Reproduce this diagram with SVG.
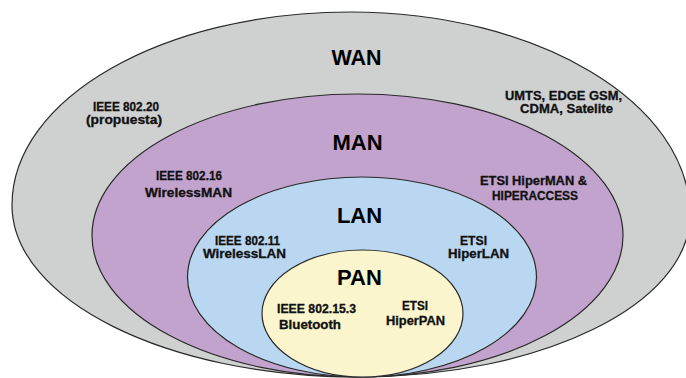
<svg xmlns="http://www.w3.org/2000/svg" width="686" height="378" viewBox="0 0 686 378">
<style>
.shape{stroke:#2a2a2a;stroke-width:1.2}
.big{font-family:"Liberation Sans",Arial,sans-serif;font-weight:bold;font-size:22px;fill:#000;text-anchor:middle}
.sm{font-family:"Liberation Sans",Arial,sans-serif;font-weight:bold;font-size:12px;fill:#111;stroke:#111;stroke-width:0.3;text-anchor:middle}
</style>
<rect width="686" height="378" fill="#ffffff"/>
<g id="wan">
<path class="shape" d="M12,205 C12,98.4 163.3,12 350,12 C537.8,12 690,102.9 690,215 C690,304.5 541.4,377 358,377 C166.9,377 12,300 12,205 Z" fill="#cfd0d0"/>
<text class="big" x="356.5" y="65" textLength="50" lengthAdjust="spacingAndGlyphs">WAN</text>
<text class="sm" x="126" y="111" textLength="66" lengthAdjust="spacingAndGlyphs">IEEE 802.20</text>
<text class="sm" x="124" y="123.5" textLength="76" lengthAdjust="spacingAndGlyphs">(propuesta)</text>
<text class="sm" x="563.5" y="99.5" textLength="117" lengthAdjust="spacingAndGlyphs">UMTS, EDGE GSM,</text>
<text class="sm" x="566.5" y="113" textLength="93" lengthAdjust="spacingAndGlyphs">CDMA, Satelite</text>
</g>
<g id="man">
<ellipse class="shape" cx="357.5" cy="235.5" rx="265.5" ry="141.5" fill="#c1a3cd"/>
<text class="big" x="357.5" y="150">MAN</text>
<text class="sm" x="189" y="180" textLength="66" lengthAdjust="spacingAndGlyphs">IEEE 802.16</text>
<text class="sm" x="188.5" y="196.5" textLength="87" lengthAdjust="spacingAndGlyphs">WirelessMAN</text>
<text class="sm" x="533.5" y="185" textLength="107" lengthAdjust="spacingAndGlyphs">ETSI HiperMAN &amp;</text>
<text class="sm" x="535" y="200" textLength="86" lengthAdjust="spacingAndGlyphs">HIPERACCESS</text>
</g>
<g id="lan">
<ellipse class="shape" cx="362" cy="277" rx="174.5" ry="100" fill="#b9d7f0"/>
<text class="big" x="359.5" y="222.5">LAN</text>
<text class="sm" x="247.5" y="244.5" textLength="65" lengthAdjust="spacingAndGlyphs">IEEE 802.11</text>
<text class="sm" x="244.5" y="257.5" textLength="83" lengthAdjust="spacingAndGlyphs">WirelessLAN</text>
<text class="sm" x="473.5" y="244.5" textLength="27" lengthAdjust="spacingAndGlyphs">ETSI</text>
<text class="sm" x="478.5" y="257.5" textLength="61" lengthAdjust="spacingAndGlyphs">HiperLAN</text>
</g>
<g id="pan">
<ellipse class="shape" cx="362.5" cy="313.5" rx="100.5" ry="63.5" fill="#faf5cd"/>
<text class="big" x="359.5" y="285">PAN</text>
<text class="sm" x="316.5" y="312.5" textLength="79" lengthAdjust="spacingAndGlyphs">IEEE 802.15.3</text>
<text class="sm" x="310" y="328.5" textLength="62" lengthAdjust="spacingAndGlyphs">Bluetooth</text>
<text class="sm" x="415" y="309.5" textLength="26" lengthAdjust="spacingAndGlyphs">ETSI</text>
<text class="sm" x="415.5" y="325" textLength="59" lengthAdjust="spacingAndGlyphs">HiperPAN</text>
</g>
<g id="connectors"></g>
</svg>
